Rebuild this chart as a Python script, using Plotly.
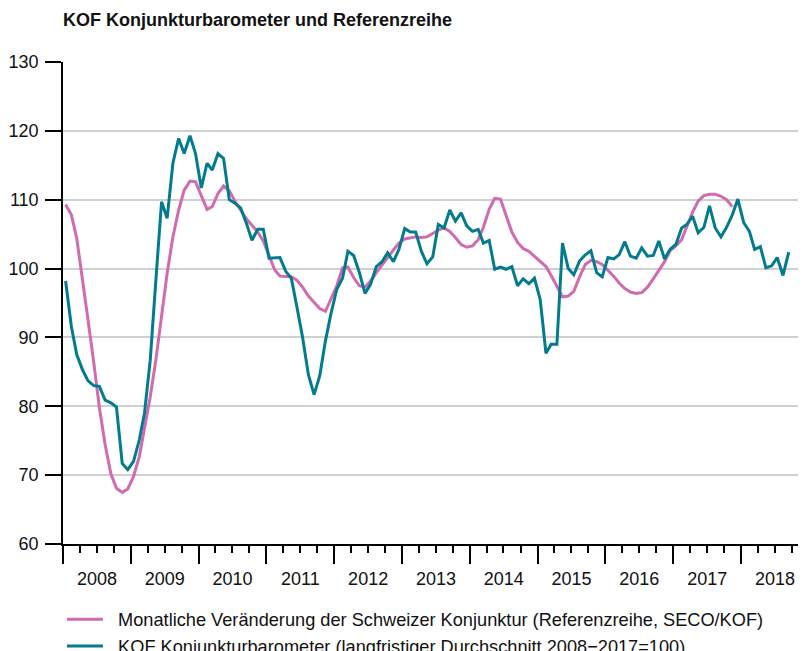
import plotly.graph_objects as go

# ---- Data (monthly, Jan 2008 onward) ----
start_year = 2008

referenz = [
    109.3, 107.8, 104.4, 98.0, 92.5, 86.3, 79.8, 74.4, 70.2, 68.1, 67.5, 68.0,      # 2008
    69.8, 72.7, 76.6, 81.4, 86.7, 93.0, 99.3, 104.6, 108.5, 111.4, 112.7, 112.6,    # 2009
    110.7, 108.6, 109.0, 110.9, 112.0, 111.3, 109.8, 108.5, 107.2, 106.3, 105.3, 104.0,  # 2010
    102.0, 99.8, 98.9, 98.9, 98.8, 98.3, 97.3, 96.0, 95.0, 94.2, 93.8, 95.5,        # 2011
    97.5, 100.1, 100.2, 98.7, 97.5, 97.3, 98.2, 99.4, 100.6, 101.6, 102.7, 103.7,   # 2012
    104.3, 104.5, 104.6, 104.5, 104.6, 105.1, 105.6, 105.9, 105.4, 104.5, 103.5, 103.1,  # 2013
    103.3, 104.2, 106.0, 108.6, 110.2, 110.1, 107.8, 105.3, 103.8, 102.9, 102.5, 101.8,  # 2014
    101.0, 100.3, 99.0, 97.3, 95.9, 96.0, 96.7, 98.8, 100.6, 101.2, 101.0, 100.6,   # 2015
    99.8, 98.9, 97.9, 97.1, 96.6, 96.4, 96.5, 97.3, 98.5, 99.8, 101.0, 102.6,       # 2016
    103.3, 104.2, 106.2, 108.2, 109.8, 110.6, 110.8, 110.8, 110.5, 110.0, 109.0,    # 2017 (to Nov)
]

barometer = [
    98.2, 91.6, 87.5, 85.3, 83.7, 83.0, 82.9, 80.9, 80.5, 79.9, 71.7, 70.8,         # 2008
    72.0, 75.1, 79.0, 86.7, 98.2, 109.7, 107.3, 115.3, 118.9, 116.7, 119.3, 116.7,  # 2009
    111.7, 115.3, 114.3, 116.7, 116.0, 110.0, 109.5, 108.8, 106.6, 104.1, 105.7, 105.7,  # 2010
    101.5, 101.6, 101.6, 99.6, 98.6, 94.3, 90.0, 84.6, 81.7, 84.4, 89.5, 93.5,      # 2011
    97.0, 98.6, 102.5, 101.9, 99.5, 96.4, 97.7, 100.3, 101.0, 102.3, 101.0, 102.8,  # 2012
    105.8, 105.3, 105.3, 102.5, 100.7, 101.7, 106.4, 105.9, 108.5, 106.9, 108.1, 106.2,  # 2013
    105.4, 105.7, 103.7, 104.1, 99.9, 100.2, 99.9, 100.3, 97.5, 98.5, 97.8, 98.6,   # 2014
    95.5, 87.7, 89.0, 89.0, 103.7, 100.0, 99.1, 101.1, 102.0, 102.6, 99.4, 98.8,    # 2015
    101.6, 101.4, 102.0, 103.9, 101.8, 101.5, 103.0, 101.8, 101.9, 104.0, 101.4, 102.8,  # 2016
    103.5, 105.9, 106.4, 107.6, 105.2, 106.0, 109.1, 105.9, 104.6, 106.0, 107.8, 110.1,  # 2017
    106.7, 105.4, 102.8, 103.2, 100.1, 100.4, 101.6, 99.0, 102.4,                   # 2018 (to Sep)
]

name_ref = "Monatliche Veränderung der Schweizer Konjunktur (Referenzreihe, SECO/KOF)"
name_kof = "KOF Konjunkturbarometer (langfristiger Durchschnitt 2008\u22122017=100)"
title_text = "KOF Konjunkturbarometer und Referenzreihe"


def month_dates(n):
    return [f"{start_year + i // 12}-{i % 12 + 1:02d}-15" for i in range(n)]


PINK = "#CF6BAE"
TEAL = "#027B8F"
FONT = "Liberation Sans, Arial, Helvetica, sans-serif"
NB = "\u00a0\u00a0"

W, H = 806, 657

fig = go.Figure()
fig.add_trace(go.Scatter(x=month_dates(len(referenz)), y=referenz, mode="lines",
                         name=NB + name_ref, line=dict(color=PINK, width=3)))
fig.add_trace(go.Scatter(x=month_dates(len(barometer)), y=barometer, mode="lines",
                         name=NB + name_kof, line=dict(color=TEAL, width=3)))

fig.update_layout(
    width=W, height=H,
    margin=dict(l=55, r=8, t=54, b=121, autoexpand=False),
    paper_bgcolor="white", plot_bgcolor="white",
    font=dict(family=FONT, size=18, color="#111111"),
    title=dict(text="<b>" + title_text + "</b>", x=55 / W, xanchor="left",
               y=1 - 12 / H, yanchor="middle",
               font=dict(size=18, color="#111111", family=FONT)),
    showlegend=True,
    legend=dict(orientation="v", xref="container", yref="container",
                x=54 / W, xanchor="left", y=0, yanchor="bottom",
                font=dict(size=18.2, color="#111111"), tracegroupgap=0,
                itemwidth=36, bgcolor="rgba(0,0,0,0)"),
)

fig.update_xaxes(
    type="date",
    range=["2008-01-01", "2018-12-17"],
    tick0="2008-01-01", dtick="M12", tickformat="%Y", ticklabelmode="period",
    ticks="outside", ticklen=18, tickwidth=1.5, tickcolor="black",
    showline=True, linecolor="black", linewidth=1.5,
    showgrid=False, zeroline=False,
    minor=dict(dtick="M3", tick0="2008-01-01", ticks="outside", ticklen=7,
               tickwidth=1.5, tickcolor="black", showgrid=False),
    tickfont=dict(size=18),
)

fig.update_yaxes(
    range=[60, 130], dtick=10, tick0=60,
    ticks="outside", ticklen=16, tickwidth=1.5, tickcolor="black",
    showline=True, linecolor="black", linewidth=1.5,
    showgrid=True, gridcolor="#cfcfcf", gridwidth=1.5,
    zeroline=False, tickfont=dict(size=18), ticklabelstandoff=3,
)

fig.write_html("out.html")
